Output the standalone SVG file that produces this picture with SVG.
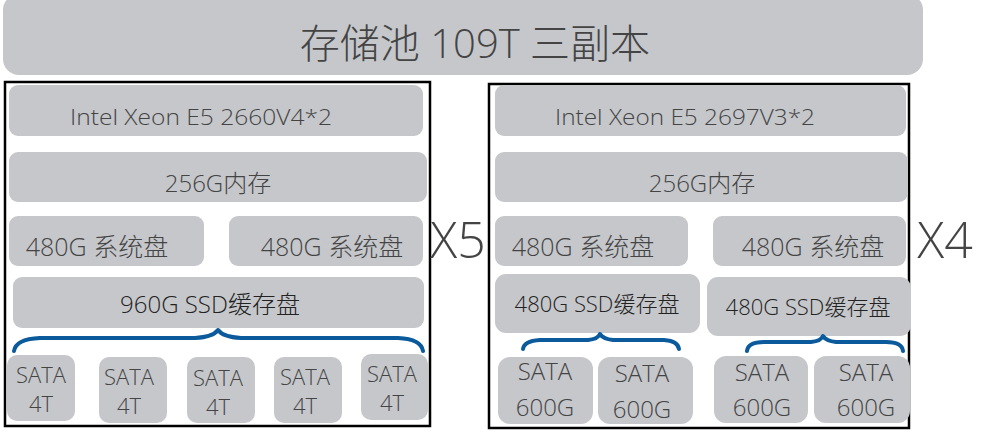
<svg xmlns="http://www.w3.org/2000/svg" width="1008" height="441" viewBox="0 0 1008 441">
<style>
.b{fill:#c5c7cb}
.t{font-family:"Open Sans","Noto Sans CJK SC",sans-serif;font-weight:300;fill:#444;text-anchor:middle}
.d{fill:#222}
.f{fill:none;stroke:#000;stroke-width:2.5}
.br{fill:none;stroke:#0a5a9c;stroke-width:4;stroke-linecap:round;stroke-linejoin:round}
</style>
<rect width="1008" height="441" fill="#fff"/>
<g id="pool">
<rect class="b" x="3" y="-6" width="920" height="81" rx="16"/>
<text class="t" x="475" y="58" font-size="40">存储池 109T 三副本</text>
</g>
<g id="server-a">
<rect class="f" x="5" y="82" width="425" height="344"/>
<g id="a-cpu"><rect class="b" x="9" y="85" width="414" height="51" rx="9"/><text class="t" x="201" y="125" font-size="22" textLength="262" lengthAdjust="spacingAndGlyphs">Intel Xeon E5 2660V4*2</text></g>
<g id="a-mem"><rect class="b" x="9" y="152" width="418" height="50" rx="9"/><text class="t" x="218" y="192" font-size="24">256G内存</text></g>
<g id="a-sys1"><rect class="b" x="9" y="216" width="195" height="50" rx="9"/><text class="t" x="97" y="256" font-size="25">480G 系统盘</text></g>
<g id="a-sys2"><rect class="b" x="229" y="216" width="194" height="50" rx="9"/><text class="t" x="332" y="256" font-size="25">480G 系统盘</text></g>
<g id="a-ssd"><rect class="b" x="13" y="277" width="411" height="51" rx="9"/><text class="t d" x="210" y="313" font-size="24">960G SSD缓存盘</text></g>
<g id="a-s1"><rect class="b" x="7" y="355" width="68" height="66" rx="10"/><text class="t" x="41" y="383" font-size="22">SATA</text><text class="t" x="41" y="412" font-size="22">4T</text></g>
<g id="a-s2"><rect class="b" x="99" y="357" width="68" height="66" rx="10"/><text class="t" x="129" y="385" font-size="22">SATA</text><text class="t" x="129" y="414" font-size="22">4T</text></g>
<g id="a-s3"><rect class="b" x="187" y="357" width="68" height="66" rx="10"/><text class="t" x="218" y="386" font-size="22">SATA</text><text class="t" x="218" y="415" font-size="22">4T</text></g>
<g id="a-s4"><rect class="b" x="274" y="357" width="68" height="66" rx="10"/><text class="t" x="305" y="385" font-size="22">SATA</text><text class="t" x="305" y="414" font-size="22">4T</text></g>
<g id="a-s5"><rect class="b" x="361" y="354" width="67" height="66" rx="10"/><text class="t" x="392" y="382" font-size="22">SATA</text><text class="t" x="392" y="411" font-size="22">4T</text></g>
<text class="t" x="458" y="258" font-size="50">X5</text>
</g>
<g id="server-b">
<rect class="f" x="489" y="84" width="420" height="344"/>
<g id="b-cpu"><rect class="b" x="495" y="85" width="411" height="51" rx="9"/><text class="t" x="685" y="125" font-size="22" textLength="260" lengthAdjust="spacingAndGlyphs">Intel Xeon E5 2697V3*2</text></g>
<g id="b-mem"><rect class="b" x="495" y="152" width="413" height="50" rx="9"/><text class="t" x="702" y="192" font-size="24">256G内存</text></g>
<g id="b-sys1"><rect class="b" x="495" y="216" width="193" height="50" rx="9"/><text class="t" x="583" y="256" font-size="25">480G 系统盘</text></g>
<g id="b-sys2"><rect class="b" x="713" y="216" width="193" height="50" rx="9"/><text class="t" x="813" y="256" font-size="25">480G 系统盘</text></g>
<g id="b-ssd1"><rect class="b" x="495" y="274" width="205" height="59" rx="11"/><text class="t d" x="597" y="312" font-size="22">480G SSD缓存盘</text></g>
<g id="b-ssd2"><rect class="b" x="707" y="277" width="204" height="59" rx="11"/><text class="t d" x="808" y="315" font-size="22">480G SSD缓存盘</text></g>
<g id="b-s1"><rect class="b" x="498" y="357" width="95" height="67" rx="12"/><text class="t" x="545" y="380" font-size="24">SATA</text><text class="t" x="545" y="416" font-size="24">600G</text></g>
<g id="b-s2"><rect class="b" x="598" y="357" width="95" height="67" rx="12"/><text class="t" x="642" y="382" font-size="24">SATA</text><text class="t" x="642" y="418" font-size="24">600G</text></g>
<g id="b-s3"><rect class="b" x="714" y="356" width="94" height="67" rx="12"/><text class="t" x="762" y="381" font-size="24">SATA</text><text class="t" x="762" y="416" font-size="24">600G</text></g>
<g id="b-s4"><rect class="b" x="814" y="356" width="96" height="67" rx="12"/><text class="t" x="866" y="381" font-size="24">SATA</text><text class="t" x="866" y="416" font-size="24">600G</text></g>
<text class="t" x="945" y="258" font-size="50">X4</text>
</g>
<g id="connectors">
<path class="br" d="M14,351 Q16,339 40,338 L195,338 Q213,337 218,330 Q223,337 241,338 L398,338 Q421,339 423,351"/>
<path class="br" d="M523,349 Q524,341 540,340 L588,340 Q598,339 600,334 Q603,339 613,340 L664,340 Q678,341 679,349"/>
<path class="br" d="M747,351 Q748,342 764,342 L811,342 Q821,341 823,336 Q826,341 836,342 L886,342 Q902,342 903,351"/>
</g>
</svg>
